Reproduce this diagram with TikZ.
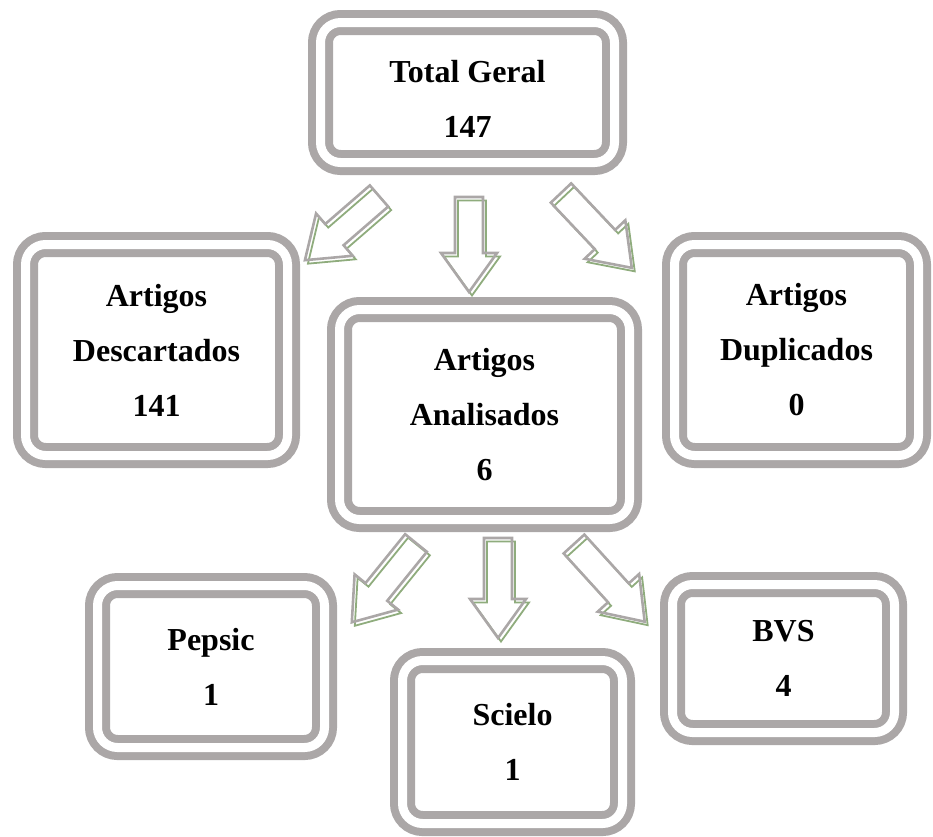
\documentclass[tikz,border=0pt]{standalone}
\usepackage{fontspec}
\setmainfont{Liberation Serif}
\usepackage{tikz}
\usetikzlibrary{positioning}
\definecolor{caixacinza}{RGB}{171,167,167}
\definecolor{setaverde}{RGB}{143,172,125}
\tikzset{
    caixa/.style={draw=caixacinza, line width=8pt, double=white, double distance=9pt,
        rounded corners=20pt, align=center, inner sep=0pt,
        font=\bfseries\fontsize{32}{55}\selectfont},
    setalinha/.style={draw=caixacinza, line width=2.6pt, line join=miter},
    setasombra/.style={draw=setaverde, line width=1.8pt, line join=miter}
}

\begin{document}
\begin{tikzpicture}[x=1pt, y=-1pt]
\useasboundingbox (0,0) rectangle (933,836);
\node[caixa, minimum width=294pt, minimum height=140pt] (geral) at (467.5,92.5) {\rule{0pt}{35pt}Total Geral\\147};
\node[caixa, minimum width=262pt, minimum height=211pt] (descartados) at (156.5,350) {Artigos\\Descartados\\141};
\node[caixa, minimum width=290pt, minimum height=210pt] (analisados) at (484.5,414.5) {Artigos\\Analisados\\6};
\node[caixa, minimum width=244pt, minimum height=211pt] (duplicados) at (796.5,350) {Artigos\\Duplicados\\0};
\node[caixa, minimum width=227pt, minimum height=162pt] (pepsic) at (211,666.5) {Pepsic\\1};
\node[caixa, minimum width=220pt, minimum height=163pt] (scielo) at (512.5,742) {Scielo\\1};
\node[caixa, minimum width=222pt, minimum height=148pt] (bvs) at (783.5,658.5) {BVS\\4};
% setas vazadas
\foreach \x/\y/\a/\l in {379/196/220.9/98, 469/197/-90/95, 561/193/-46.6/103,
                         416/543/231/102, 498/538/-90/100, 574/544/-47.7/105}
{
    \begin{scope}[shift={(\x+3,\y+3.5)}, rotate=\a]
        \draw[setasombra] (0,-14) -- ({\l-39},-14) -- ({\l-39},-28) -- (\l,0)
            -- ({\l-39},28) -- ({\l-39},14) -- (0,14) -- cycle;
    \end{scope}
    \begin{scope}[shift={(\x,\y)}, rotate=\a]
        \draw[setalinha] (0,-14) -- ({\l-39},-14) -- ({\l-39},-28) -- (\l,0)
            -- ({\l-39},28) -- ({\l-39},14) -- (0,14) -- cycle;
    \end{scope}
}
\end{tikzpicture}
\end{document}
